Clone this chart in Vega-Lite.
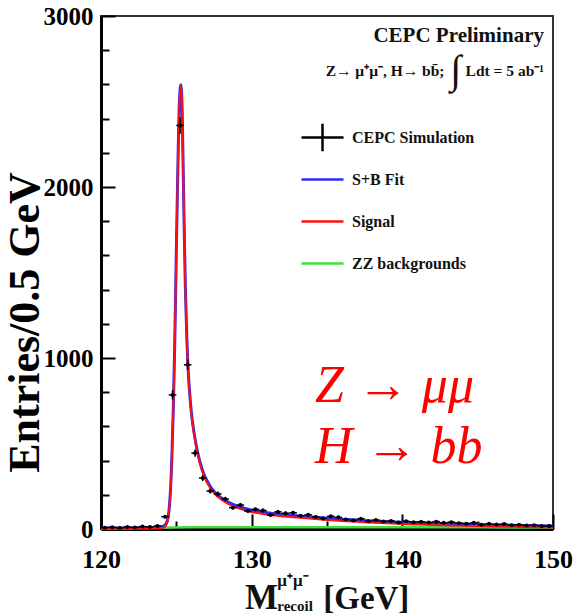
{
  "$schema": "https://vega.github.io/schema/vega-lite/v6.json",
  "autosize": "none",
  "width": 452,
  "height": 513,
  "padding": {"left": 101, "top": 16, "right": 21, "bottom": 87},
  "background": "white",
  "config": {
    "view": {"stroke": "#333333", "strokeWidth": 2},
    "font": "Liberation Serif"
  },
  "datasets": {
    "sim": [
      {"m": 120.25, "n": 8, "e": 2.8}, {"m": 120.75, "n": 10, "e": 3.2},
      {"m": 121.25, "n": 6, "e": 2.4}, {"m": 121.75, "n": 12, "e": 3.5},
      {"m": 122.25, "n": 9, "e": 3.0}, {"m": 122.75, "n": 14, "e": 3.7},
      {"m": 123.25, "n": 12, "e": 3.5}, {"m": 123.75, "n": 18, "e": 4.2},
      {"m": 124.25, "n": 72, "e": 8.5}, {"m": 124.75, "n": 784, "e": 28},
      {"m": 125.25, "n": 2360, "e": 48.6}, {"m": 125.75, "n": 960, "e": 31},
      {"m": 126.25, "n": 444, "e": 21.1}, {"m": 126.75, "n": 298, "e": 17.3},
      {"m": 127.25, "n": 222, "e": 14.9}, {"m": 127.75, "n": 205, "e": 14.3},
      {"m": 128.25, "n": 175, "e": 13.2}, {"m": 128.75, "n": 125, "e": 11.2},
      {"m": 129.25, "n": 140, "e": 11.8}, {"m": 129.75, "n": 105, "e": 10.2},
      {"m": 130.25, "n": 115, "e": 10.7}, {"m": 130.75, "n": 108, "e": 10.4},
      {"m": 131.25, "n": 82, "e": 9.1}, {"m": 131.75, "n": 100, "e": 10},
      {"m": 132.25, "n": 92, "e": 9.6}, {"m": 132.75, "n": 95, "e": 9.7},
      {"m": 133.25, "n": 78, "e": 8.8}, {"m": 133.75, "n": 83, "e": 9.1},
      {"m": 134.25, "n": 70, "e": 8.4}, {"m": 134.75, "n": 62, "e": 7.9},
      {"m": 135.25, "n": 74, "e": 8.6}, {"m": 135.75, "n": 68, "e": 8.2},
      {"m": 136.25, "n": 55, "e": 7.4}, {"m": 136.75, "n": 50, "e": 7.1},
      {"m": 137.25, "n": 60, "e": 7.7}, {"m": 137.75, "n": 45, "e": 6.7},
      {"m": 138.25, "n": 52, "e": 7.2}, {"m": 138.75, "n": 44, "e": 6.6},
      {"m": 139.25, "n": 47, "e": 6.9}, {"m": 139.75, "n": 38, "e": 6.2},
      {"m": 140.25, "n": 45, "e": 6.7}, {"m": 140.75, "n": 40, "e": 6.3},
      {"m": 141.25, "n": 42, "e": 6.5}, {"m": 141.75, "n": 38, "e": 6.2},
      {"m": 142.25, "n": 43, "e": 6.6}, {"m": 142.75, "n": 36, "e": 6.0},
      {"m": 143.25, "n": 40, "e": 6.3}, {"m": 143.75, "n": 34, "e": 5.8},
      {"m": 144.25, "n": 31, "e": 5.6}, {"m": 144.75, "n": 36, "e": 6.0},
      {"m": 145.25, "n": 25, "e": 5.0}, {"m": 145.75, "n": 30, "e": 5.5},
      {"m": 146.25, "n": 26, "e": 5.1}, {"m": 146.75, "n": 29, "e": 5.4},
      {"m": 147.25, "n": 22, "e": 4.7}, {"m": 147.75, "n": 25, "e": 5.0},
      {"m": 148.25, "n": 20, "e": 4.5}, {"m": 148.75, "n": 22, "e": 4.7},
      {"m": 149.25, "n": 18, "e": 4.2}, {"m": 149.75, "n": 17, "e": 4.1}
    ],
    "fit": [
      {"series": "ZZ backgrounds", "m": 120, "v": 6}, {"series": "ZZ backgrounds", "m": 122, "v": 6.5},
      {"series": "ZZ backgrounds", "m": 124, "v": 8}, {"series": "ZZ backgrounds", "m": 126, "v": 10},
      {"series": "ZZ backgrounds", "m": 130, "v": 10}, {"series": "ZZ backgrounds", "m": 135, "v": 10},
      {"series": "ZZ backgrounds", "m": 140, "v": 10}, {"series": "ZZ backgrounds", "m": 145, "v": 10},
      {"series": "ZZ backgrounds", "m": 148, "v": 9}, {"series": "ZZ backgrounds", "m": 150, "v": 9},

      {"series": "S+B Fit", "m": 120, "v": 6.2}, {"series": "S+B Fit", "m": 121, "v": 6.3},
      {"series": "S+B Fit", "m": 122, "v": 6.5}, {"series": "S+B Fit", "m": 123, "v": 7},
      {"series": "S+B Fit", "m": 123.5, "v": 8}, {"series": "S+B Fit", "m": 124, "v": 13},
      {"series": "S+B Fit", "m": 124.2, "v": 18}, {"series": "S+B Fit", "m": 124.4, "v": 48},
      {"series": "S+B Fit", "m": 124.5, "v": 98}, {"series": "S+B Fit", "m": 124.6, "v": 208},
      {"series": "S+B Fit", "m": 124.7, "v": 408}, {"series": "S+B Fit", "m": 124.8, "v": 708},
      {"series": "S+B Fit", "m": 124.9, "v": 1108}, {"series": "S+B Fit", "m": 125.0, "v": 1628},
      {"series": "S+B Fit", "m": 125.1, "v": 2108}, {"series": "S+B Fit", "m": 125.2, "v": 2488},
      {"series": "S+B Fit", "m": 125.3, "v": 2598}, {"series": "S+B Fit", "m": 125.35, "v": 2553},
      {"series": "S+B Fit", "m": 125.4, "v": 2388}, {"series": "S+B Fit", "m": 125.5, "v": 1868},
      {"series": "S+B Fit", "m": 125.6, "v": 1408}, {"series": "S+B Fit", "m": 125.7, "v": 1108},
      {"series": "S+B Fit", "m": 125.8, "v": 908}, {"series": "S+B Fit", "m": 125.9, "v": 778},
      {"series": "S+B Fit", "m": 126.0, "v": 680}, {"series": "S+B Fit", "m": 126.2, "v": 550},
      {"series": "S+B Fit", "m": 126.4, "v": 455}, {"series": "S+B Fit", "m": 126.6, "v": 382},
      {"series": "S+B Fit", "m": 126.8, "v": 328}, {"series": "S+B Fit", "m": 127.0, "v": 288},
      {"series": "S+B Fit", "m": 127.25, "v": 250}, {"series": "S+B Fit", "m": 127.5, "v": 220},
      {"series": "S+B Fit", "m": 128, "v": 181}, {"series": "S+B Fit", "m": 128.5, "v": 154},
      {"series": "S+B Fit", "m": 129, "v": 135}, {"series": "S+B Fit", "m": 129.5, "v": 121},
      {"series": "S+B Fit", "m": 130, "v": 110}, {"series": "S+B Fit", "m": 130.5, "v": 102},
      {"series": "S+B Fit", "m": 131, "v": 95}, {"series": "S+B Fit", "m": 132, "v": 85},
      {"series": "S+B Fit", "m": 133, "v": 77}, {"series": "S+B Fit", "m": 134, "v": 70},
      {"series": "S+B Fit", "m": 135, "v": 63}, {"series": "S+B Fit", "m": 136, "v": 57},
      {"series": "S+B Fit", "m": 137, "v": 52}, {"series": "S+B Fit", "m": 138, "v": 47},
      {"series": "S+B Fit", "m": 139, "v": 43}, {"series": "S+B Fit", "m": 140, "v": 39},
      {"series": "S+B Fit", "m": 141, "v": 36}, {"series": "S+B Fit", "m": 142, "v": 33},
      {"series": "S+B Fit", "m": 143, "v": 31}, {"series": "S+B Fit", "m": 144, "v": 29},
      {"series": "S+B Fit", "m": 145, "v": 27}, {"series": "S+B Fit", "m": 146, "v": 24},
      {"series": "S+B Fit", "m": 147, "v": 22}, {"series": "S+B Fit", "m": 148, "v": 21},
      {"series": "S+B Fit", "m": 149, "v": 19}, {"series": "S+B Fit", "m": 150, "v": 18},

      {"series": "Signal", "m": 120, "v": 0.2}, {"series": "Signal", "m": 121, "v": 0.3},
      {"series": "Signal", "m": 122, "v": 0.5}, {"series": "Signal", "m": 123, "v": 1},
      {"series": "Signal", "m": 123.5, "v": 2}, {"series": "Signal", "m": 124, "v": 5},
      {"series": "Signal", "m": 124.2, "v": 10}, {"series": "Signal", "m": 124.4, "v": 40},
      {"series": "Signal", "m": 124.5, "v": 90}, {"series": "Signal", "m": 124.6, "v": 200},
      {"series": "Signal", "m": 124.7, "v": 400}, {"series": "Signal", "m": 124.8, "v": 700},
      {"series": "Signal", "m": 124.9, "v": 1100}, {"series": "Signal", "m": 125.0, "v": 1620},
      {"series": "Signal", "m": 125.1, "v": 2100}, {"series": "Signal", "m": 125.2, "v": 2480},
      {"series": "Signal", "m": 125.3, "v": 2590}, {"series": "Signal", "m": 125.35, "v": 2545},
      {"series": "Signal", "m": 125.4, "v": 2380}, {"series": "Signal", "m": 125.5, "v": 1860},
      {"series": "Signal", "m": 125.6, "v": 1400}, {"series": "Signal", "m": 125.7, "v": 1100},
      {"series": "Signal", "m": 125.8, "v": 900}, {"series": "Signal", "m": 125.9, "v": 770},
      {"series": "Signal", "m": 126.0, "v": 670}, {"series": "Signal", "m": 126.2, "v": 540},
      {"series": "Signal", "m": 126.4, "v": 445}, {"series": "Signal", "m": 126.6, "v": 372},
      {"series": "Signal", "m": 126.8, "v": 318}, {"series": "Signal", "m": 127.0, "v": 278},
      {"series": "Signal", "m": 127.25, "v": 240}, {"series": "Signal", "m": 127.5, "v": 210},
      {"series": "Signal", "m": 128, "v": 171}, {"series": "Signal", "m": 128.5, "v": 144},
      {"series": "Signal", "m": 129, "v": 125}, {"series": "Signal", "m": 129.5, "v": 111},
      {"series": "Signal", "m": 130, "v": 100}, {"series": "Signal", "m": 130.5, "v": 92},
      {"series": "Signal", "m": 131, "v": 85}, {"series": "Signal", "m": 132, "v": 75},
      {"series": "Signal", "m": 133, "v": 67}, {"series": "Signal", "m": 134, "v": 60},
      {"series": "Signal", "m": 135, "v": 53}, {"series": "Signal", "m": 136, "v": 47},
      {"series": "Signal", "m": 137, "v": 42}, {"series": "Signal", "m": 138, "v": 37},
      {"series": "Signal", "m": 139, "v": 33}, {"series": "Signal", "m": 140, "v": 29},
      {"series": "Signal", "m": 141, "v": 26}, {"series": "Signal", "m": 142, "v": 23},
      {"series": "Signal", "m": 143, "v": 21}, {"series": "Signal", "m": 144, "v": 19},
      {"series": "Signal", "m": 145, "v": 17}, {"series": "Signal", "m": 146, "v": 15},
      {"series": "Signal", "m": 147, "v": 13}, {"series": "Signal", "m": 148, "v": 12},
      {"series": "Signal", "m": 149, "v": 10}, {"series": "Signal", "m": 150, "v": 9}
    ],
    "one": [{}]
  },
  "encoding": {
    "x": {
      "type": "quantitative",
      "scale": {"domain": [120, 150], "nice": false, "zero": false},
      "axis": {
        "title": null,
        "values": [120, 125, 130, 135, 140, 145, 150],
        "labelExpr": "datum.value % 10 === 0 ? datum.label : ''",
        "grid": false,
        "domainColor": "black",
        "domainWidth": 3,
        "tickColor": "black",
        "tickWidth": 2,
        "tickSize": {"condition": {"test": "datum.value % 10 === 0", "value": -15}, "value": -8},
        "labelFont": "Liberation Serif",
        "labelFontWeight": "bold",
        "labelFontSize": 26,
        "labelColor": "black",
        "labelPadding": 32,
        "labelFlush": false,
        "labelOverlap": false
      }
    },
    "y": {
      "type": "quantitative",
      "scale": {"domain": [0, 3000], "nice": false},
      "axis": {
        "title": "Entries/0.5 GeV",
        "titleFont": "Liberation Serif",
        "titleFontWeight": "bold",
        "titleFontSize": 44,
        "titleColor": "black",
        "titleAnchor": "middle",
        "titleAngle": -90,
        "titleBaseline": "middle",
        "titleX": -76,
        "titleY": 306,
        "values": [0, 200, 400, 600, 800, 1000, 1200, 1400, 1600, 1800, 2000, 2200, 2400, 2600, 2800, 3000],
        "labelExpr": "datum.value % 1000 === 0 ? datum.label : ''",
        "format": "d",
        "grid": false,
        "domainColor": "black",
        "domainWidth": 3,
        "tickColor": "black",
        "tickWidth": 2,
        "tickSize": {"condition": {"test": "datum.value % 1000 === 0", "value": -14}, "value": -8},
        "labelFont": "Liberation Serif",
        "labelFontWeight": "bold",
        "labelFontSize": 25,
        "labelColor": "black",
        "labelPadding": 22,
        "labelFlush": false,
        "labelOverlap": false
      }
    }
  },
  "layer": [
    {
      "data": {"name": "fit"},
      "transform": [{"filter": "datum.series === 'ZZ backgrounds'"}],
      "mark": {"type": "line", "strokeWidth": 2.5, "interpolate": "monotone"},
      "encoding": {
        "x": {"field": "m", "type": "quantitative"},
        "y": {"field": "v", "type": "quantitative"},
        "color": {
          "field": "series",
          "type": "nominal",
          "scale": {
            "domain": ["CEPC Simulation", "S+B Fit", "Signal", "ZZ backgrounds"],
            "range": ["black", "#2a2aff", "#ff1010", "#40e040"]
          },
          "legend": {
            "title": null,
            "orient": "none",
            "legendX": 199,
            "legendY": 99,
            "padding": 0,
            "symbolType": "stroke",
            "symbolSize": 1764,
            "symbolStrokeWidth": 2.5,
            "rowPadding": -1,
            "labelOffset": 7,
            "labelFont": "Liberation Serif",
            "labelFontWeight": "bold",
            "labelFontSize": 16,
            "labelColor": "#111111",
            "encode": {
              "symbols": {
                "update": {
                  "shape": {"signal": "datum.value === 'CEPC Simulation' ? 'M-1,0H1M0,-0.65V0.65' : 'M-1,0H1M0,-0.65M0,0.65'"}
                }
              }
            }
          }
        }
      }
    },
    {
      "data": {"name": "fit"},
      "transform": [{"filter": "datum.series === 'S+B Fit'"}],
      "mark": {"type": "line", "strokeWidth": 3, "interpolate": "monotone"},
      "encoding": {
        "x": {"field": "m", "type": "quantitative"},
        "y": {"field": "v", "type": "quantitative"},
        "color": {"field": "series", "type": "nominal"}
      }
    },
    {
      "data": {"name": "fit"},
      "transform": [{"filter": "datum.series === 'Signal'"}],
      "mark": {"type": "line", "strokeWidth": 2, "interpolate": "monotone"},
      "encoding": {
        "x": {"field": "m", "type": "quantitative"},
        "y": {"field": "v", "type": "quantitative"},
        "color": {"field": "series", "type": "nominal"}
      }
    },
    {
      "data": {"name": "sim"},
      "transform": [{"bin": {"step": 0.5, "extent": [120, 150]}, "field": "m", "as": ["lo", "hi"]}],
      "mark": {"type": "rule", "color": "black", "strokeWidth": 1.5},
      "encoding": {
        "x": {"field": "lo", "type": "quantitative"},
        "x2": {"field": "hi"},
        "y": {"field": "n", "type": "quantitative"}
      }
    },
    {
      "data": {"name": "sim"},
      "mark": {"type": "errorbar", "color": "black", "thickness": 1.5},
      "encoding": {
        "x": {"field": "m", "type": "quantitative"},
        "y": {"field": "n", "type": "quantitative"},
        "yError": {"field": "e"}
      }
    },
    {
      "data": {"name": "sim"},
      "mark": {"type": "point", "filled": true, "color": "black", "size": 16, "opacity": 1},
      "encoding": {
        "x": {"field": "m", "type": "quantitative"},
        "y": {"field": "n", "type": "quantitative"}
      }
    },
    {
      "data": {"name": "one"},
      "mark": {"type": "text", "text": "CEPC Preliminary", "align": "right", "baseline": "alphabetic", "font": "Liberation Serif", "fontWeight": "bold", "fontSize": 21, "color": "#111111"},
      "encoding": {"x": {"datum": 149.4}, "y": {"datum": 2850}}
    },
    {
      "data": {"name": "one"},
      "mark": {"type": "text", "text": "Z→ μ⁺μ⁻, H→ bb̄;", "align": "right", "baseline": "alphabetic", "font": "Liberation Serif", "fontWeight": "bold", "fontSize": 15.5, "color": "#111111"},
      "encoding": {"x": {"datum": 142.8}, "y": {"datum": 2649}}
    },
    {
      "data": {"name": "one"},
      "mark": {"type": "text", "text": "∫", "align": "center", "baseline": "alphabetic", "font": "Liberation Serif", "fontSize": 40, "color": "#111111"},
      "encoding": {"x": {"datum": 143.55}, "y": {"datum": 2610}}
    },
    {
      "data": {"name": "one"},
      "mark": {"type": "text", "text": "Ldt = 5 ab⁻¹", "align": "right", "baseline": "alphabetic", "font": "Liberation Serif", "fontWeight": "bold", "fontSize": 15.5, "color": "#111111"},
      "encoding": {"x": {"datum": 149.4}, "y": {"datum": 2649}}
    },
    {
      "data": {"name": "one"},
      "mark": {"type": "text", "text": "Z → μμ", "align": "left", "baseline": "alphabetic", "font": "Liberation Serif", "fontStyle": "italic", "fontSize": 52, "color": "#ff0000"},
      "encoding": {"x": {"datum": 134.2}, "y": {"datum": 743}}
    },
    {
      "data": {"name": "one"},
      "mark": {"type": "text", "text": "H → bb", "align": "left", "baseline": "alphabetic", "font": "Liberation Serif", "fontStyle": "italic", "fontSize": 52, "color": "#ff0000"},
      "encoding": {"x": {"datum": 134.2}, "y": {"datum": 386}}
    },
    {
      "data": {"name": "one"},
      "mark": {"type": "text", "text": "M", "align": "left", "baseline": "alphabetic", "font": "Liberation Serif", "fontWeight": "bold", "fontSize": 35, "color": "#111111"},
      "encoding": {"x": {"datum": 129.55}, "y": {"datum": -468}}
    },
    {
      "data": {"name": "one"},
      "mark": {"type": "text", "text": "μ⁺μ⁻", "align": "left", "baseline": "alphabetic", "font": "Liberation Serif", "fontWeight": "bold", "fontSize": 17, "color": "#111111"},
      "encoding": {"x": {"datum": 131.7}, "y": {"datum": -333}}
    },
    {
      "data": {"name": "one"},
      "mark": {"type": "text", "text": "recoil", "align": "left", "baseline": "alphabetic", "font": "Liberation Serif", "fontWeight": "bold", "fontSize": 15, "color": "#111111"},
      "encoding": {"x": {"datum": 131.7}, "y": {"datum": -480}}
    },
    {
      "data": {"name": "one"},
      "mark": {"type": "text", "text": "[GeV]", "align": "left", "baseline": "alphabetic", "font": "Liberation Serif", "fontWeight": "bold", "fontSize": 33, "color": "#111111"},
      "encoding": {"x": {"datum": 134.75}, "y": {"datum": -468}}
    }
  ]
}
